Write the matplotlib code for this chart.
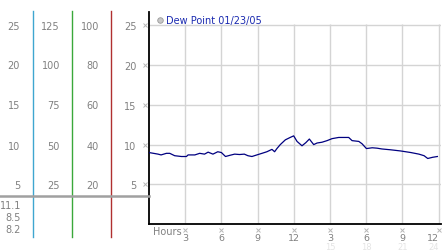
import matplotlib
matplotlib.use("Agg")
import matplotlib.pyplot as plt
import matplotlib.transforms as mtransforms
import numpy as np

# dew point readings (hour of day, deg)
hours = [0.0, 0.75, 1.0, 1.44, 1.72, 2.13, 2.69, 3.1, 3.24, 3.8, 4.2, 4.6, 4.9, 5.3,
         5.7, 6.0, 6.34, 6.7, 7.1, 7.5, 7.9, 8.2, 8.53, 8.94, 9.36, 9.77, 10.19,
         10.41, 10.6, 10.88, 11.3, 11.7, 11.99, 12.27, 12.68, 13.0, 13.29, 13.65,
         13.93, 14.34, 14.76, 15.17, 15.72, 16.28, 16.55, 16.83, 17.39, 17.66,
         18.02, 18.5, 18.9, 19.3, 20.0, 20.85, 21.7, 22.37, 22.8, 23.1, 23.5, 23.9]
dew = [9.0, 8.8, 8.7, 8.9, 8.9, 8.6, 8.5, 8.5, 8.7, 8.7, 8.9, 8.8, 9.05, 8.8,
       9.1, 9.0, 8.5, 8.65, 8.8, 8.75, 8.8, 8.6, 8.5, 8.7, 8.9, 9.1, 9.4,
       9.1, 9.5, 10.0, 10.6, 10.9, 11.1, 10.4, 9.85, 10.25, 10.7, 10.0,
       10.2, 10.3, 10.5, 10.75, 10.9, 10.9, 10.9, 10.5, 10.4, 10.1,
       9.5, 9.6, 9.55, 9.45, 9.35, 9.2, 9.0, 8.8, 8.6, 8.25, 8.4, 8.5]

legend_label = "Dew Point 01/23/05"
y_ticks = [5, 10, 15, 20, 25]
x_ticks = [3, 6, 9, 12, 15, 18, 21, 24]
x_labels = ["3", "6", "9", "12", "3", "6", "9", "12"]
x_labels2 = ["15", "18", "21", "24"]
# the three outer scales (the fourth is the main axis itself)
scale_cols = [["25", "20", "15", "10", "5"],
              ["125", "100", "75", "50", "25"],
              ["100", "80", "60", "40", "20"]]
stats = ["11.1", "8.5", "8.2"]

W, H = 442, 253
gray = "#808080"
fs = 7

fig = plt.figure(figsize=(W / 100, H / 100), dpi=100)
ax = fig.add_axes([149 / W, 28 / H, 292 / W, 212 / H])
ax.set_xlim(0, 24.2)
ax.set_ylim(0, 26.7)

# grid
for yv in y_ticks:
    ax.axhline(yv, color="#d4d4d4", lw=1, zorder=0)
ax.vlines(x_ticks, 0, 25.2, color="#d4d4d4", lw=1, zorder=0)

ax.plot(hours, dew, color="#000080", lw=0.9, zorder=3)

for s in ["top", "right"]:
    ax.spines[s].set_visible(False)
ax.spines["left"].set_linewidth(1.3)
ax.spines["bottom"].set_linewidth(1.3)

ax.set_yticks(y_ticks)
ax.set_yticklabels([str(v) for v in y_ticks], color=gray, fontsize=fs)
ax.tick_params(axis="y", length=0, pad=9)
ax.set_xticks(x_ticks)
ax.set_xticklabels(x_labels, color=gray, fontsize=6.8)
ax.tick_params(axis="x", length=0, pad=6.5)
# keep the last label inside the picture
ax.get_xticklabels()[-1].set_ha("right")

# small tick glyphs
ty = mtransforms.blended_transform_factory(ax.transAxes, ax.transData)
ax.plot([-0.013] * len(y_ticks), y_ticks, ls="none", marker="x", ms=2.3,
        mew=0.7, color="#b8b8b8", transform=ty, clip_on=False)
tx = mtransforms.blended_transform_factory(ax.transData, ax.transAxes)
ax.plot(x_ticks, [-0.029] * len(x_ticks), ls="none", marker="x", ms=2.3,
        mew=0.7, color="#b8b8b8", transform=tx, clip_on=False)
for i, (xv, lab) in enumerate(zip(x_ticks[4:], x_labels2)):
    ha = "right" if i == len(x_labels2) - 1 else "center"
    ax.text(xv, -0.108, lab, transform=tx, ha=ha, va="center",
            fontsize=6, color="#e4e4e4")

ax.text(0.012, -0.035, "Hours", transform=ax.transAxes, ha="left", va="center",
        fontsize=fs, color=gray)

# legend
ax.plot([0.9], [25.65], marker="o", ms=4, color="#c8c8c8", mec="#999999",
        mew=0.6, clip_on=False)
ax.text(1.4, 25.65, legend_label, fontsize=fs, color="#1a2ab0",
        ha="left", va="center")

# left scale panel
def fx(px):
    return px / W

def fy(py):
    return 1 - py / H

row_y = [26.7, 66, 106.3, 146.7, 186.5]
col_right = [20, 60, 99]
for col, xr in zip(scale_cols, col_right):
    for lab, yy in zip(col, row_y):
        fig.text(fx(xr), fy(yy), lab, ha="right", va="center", fontsize=fs, color=gray)

for xpos, c in zip([33.3, 72.3, 111.3], ["#3fa6d0", "#3aa83a", "#b03030"]):
    fig.add_artist(plt.Line2D([fx(xpos), fx(xpos)], [fy(12), fy(238)],
                              color=c, lw=1.0))
fig.add_artist(plt.Line2D([0, fx(149)], [fy(196.7), fy(196.7)], color="#a0a0a0", lw=1.8))

for lab, yy in zip(stats, [205.7, 217.7, 230]):
    fig.text(fx(21), fy(yy), lab, ha="right", va="center", fontsize=fs, color=gray)

fig.savefig("out.png", dpi=100)
